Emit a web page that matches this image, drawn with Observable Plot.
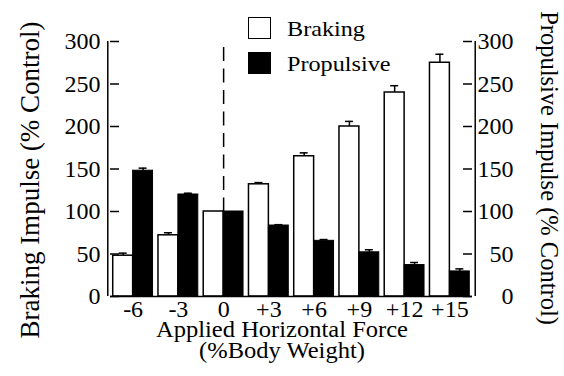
<!DOCTYPE html>
<html>
<head>
<meta charset="utf-8">
<script src="https://cdn.jsdelivr.net/npm/d3@7"></script>
<script src="https://cdn.jsdelivr.net/npm/@observablehq/plot@0.6"></script>
<style>
  html, body { margin: 0; padding: 0; background: #fff; }
  #wrap { position: relative; width: 564px; height: 376px; overflow: hidden; font-family: "Liberation Serif", "Times New Roman", serif; color: #000; }
  #wrap svg { position: absolute; left: 0; top: 0; }
  #wrap svg text { font-family: "Liberation Serif", "Times New Roman", serif; }
  .lg { position: absolute; font-size: 22px; line-height: 22px; white-space: nowrap; transform: scaleX(1.1); transform-origin: 0 50%; }
  .box { position: absolute; width: 23px; height: 22px; border: 1.5px solid #000; box-sizing: border-box; }
  .ttl { position: absolute; white-space: nowrap; }
</style>
</head>
<body>
<div id="wrap"></div>
<script>
// Data
const forces = ["-6", "-3", "0", "+3", "+6", "+9", "+12", "+15"];
const braking = [48, 72, 100, 132, 165, 200, 240, 275];
const brakingErr = [3, 3, 0, 2, 4, 6, 8, 10];
const propulsive = [148, 120, 100, 83.5, 65.5, 52, 37, 29.5];
const propulsiveErr = [3, 1.5, 0, 1, 1.5, 3, 3, 3];
const yTicks = [0, 50, 100, 150, 200, 250, 300];
const seriesNames = ["Braking", "Propulsive"];
const titles = {
  left: "Braking Impulse (% Control)",
  right: "Propulsive Impulse (% Control)",
  x1: "Applied Horizontal Force",
  x2: "(%Body Weight)"
};

const W = 564, H = 376, mL = 110, mR = 92, mT = 41, mB = 80;
const pIn = 0.12, pOut = 0.06;
const plotW = W - mL - mR;
const step = plotW / (forces.length - pIn + 2 * pOut);
const bw = step * (1 - pIn);
const half = bw / 2;
const capHalf = 4;
const edge = step * (0.5 * (1 - pIn) + pOut + pIn / 2);

const rows = forces.map((f, i) => ({
  f, b: braking[i], be: brakingErr[i], p: propulsive[i], pe: propulsiveErr[i]
}));
const font = "Liberation Serif";
const fs = 24;

const chart = Plot.plot({
  width: W, height: H,
  marginLeft: mL, marginRight: mR, marginTop: mT, marginBottom: mB,
  style: { fontFamily: font, fontSize: fs + "px", color: "#000", background: "transparent" },
  x: { domain: forces, paddingInner: pIn, paddingOuter: pOut, round: false, axis: null },
  y: { domain: [0, 300], axis: null },
  marks: [
    // error whiskers
    Plot.ruleX(rows.filter(d => d.be > 0), { x: "f", y1: "b", y2: d => d.b + d.be, dx: -bw / 4, stroke: "#000", strokeWidth: 1.5 }),
    Plot.ruleX(rows.filter(d => d.pe > 0), { x: "f", y1: "p", y2: d => d.p + d.pe, dx: bw / 4, stroke: "#000", strokeWidth: 1.5 }),
    Plot.tickY(rows.filter(d => d.be > 0), { x: "f", y: d => d.b + d.be, insetLeft: bw / 4 - capHalf, insetRight: 3 * bw / 4 - capHalf, stroke: "#000", strokeWidth: 1.5 }),
    Plot.tickY(rows.filter(d => d.pe > 0), { x: "f", y: d => d.p + d.pe, insetLeft: 3 * bw / 4 - capHalf, insetRight: bw / 4 - capHalf, stroke: "#000", strokeWidth: 1.5 }),
    // bars
    Plot.barY(rows, { x: "f", y: "b", insetRight: half, fill: "#fff", stroke: "#000", strokeWidth: 1.5 }),
    Plot.barY(rows, { x: "f", y: "p", insetLeft: half, fill: "#000", stroke: "#000", strokeWidth: 1 }),
    // dashed reference line at 0
    Plot.ruleX(["0"], { x: d => d, y1: 293, y2: 100, stroke: "#000", strokeWidth: 1.5, strokeDasharray: "14,7.5" }),
    // frame: left, right, bottom
    Plot.ruleX([forces[0]], { x: d => d, y1: 0, y2: 300, dx: -edge, stroke: "#000", strokeWidth: 1.5 }),
    Plot.ruleX([forces[forces.length - 1]], { x: d => d, y1: 0, y2: 300, dx: edge, stroke: "#000", strokeWidth: 1.5 }),
    Plot.ruleY([0], { stroke: "#000", strokeWidth: 1.5 }),
    // inward ticks
    Plot.tickY(yTicks, { y: d => d, insetRight: plotW - 9, stroke: "#000", strokeWidth: 1.5 }),
    Plot.tickY(yTicks, { y: d => d, insetLeft: plotW - 9, stroke: "#000", strokeWidth: 1.5 }),
    // axes labels
    Plot.axisY(yTicks, { anchor: "left", tickSize: 0, tickPadding: 10, fontSize: fs, label: null }),
    Plot.axisY(yTicks, { anchor: "right", tickSize: 0, tickPadding: 41, textAnchor: "end", fontSize: fs, label: null }),
    Plot.axisX(forces, { anchor: "bottom", tickSize: 0, tickPadding: 3, fontSize: fs, label: null })
  ]
});

const wrap = document.getElementById("wrap");
wrap.appendChild(chart);

// axis titles (HTML)
function addTitle(text, cx, cy, rot, size, lh, stretch) {
  const d = document.createElement("div");
  d.className = "ttl";
  d.textContent = text;
  d.style.fontSize = size + "px";
  d.style.lineHeight = lh + "px";
  d.style.left = cx + "px";
  d.style.top = cy + "px";
  const s = rot === 0 ? `scaleX(${stretch})` : `scaleY(${stretch})`;
  d.style.transform = `translate(-50%, -50%) rotate(${rot}deg) ${s}`;
  wrap.appendChild(d);
}
addTitle(titles.left, 30, 179.5, -90, 27, 22, 1.05);
addTitle(titles.right, 549, 167.5, 90, 24.5, 18, 1.05);
addTitle(titles.x1, 282, 329.5, 0, 22.5, 16, 1.09);
addTitle(titles.x2, 282, 350.7, 0, 22.5, 16, 1.09);

// legend
const legendItems = [
  { name: seriesNames[0], fill: "#fff", top: 17 },
  { name: seriesNames[1], fill: "#000", top: 52 }
];
legendItems.forEach(it => {
  const b = document.createElement("div");
  b.className = "box";
  b.style.left = "248px"; b.style.top = it.top + "px"; b.style.background = it.fill;
  wrap.appendChild(b);
  const t = document.createElement("div");
  t.className = "lg";
  t.textContent = it.name;
  t.style.left = "287px"; t.style.top = (it.top + 0.6) + "px";
  wrap.appendChild(t);
});
</script>
</body>
</html>
